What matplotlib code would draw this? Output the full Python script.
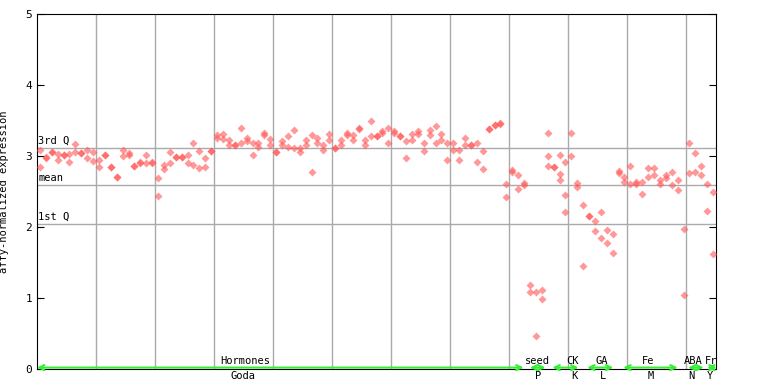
import numpy as np
import matplotlib.pyplot as plt

# expression per sample (two replicates; equal values where the marks overlap)
rep1 = [3.09, 2.99, 3.06, 3.03, 3.02, 3.03, 3.17, 3.04, 3.08, 3.05,
        2.95, 3.02, 2.85, 2.70, 3.08, 3.04, 2.86, 2.91, 3.01, 2.92,
        2.69, 2.87, 3.05, 2.99, 2.99, 3.01, 3.18, 3.07, 2.97, 3.07,
        3.30, 3.31, 3.23, 3.15, 3.40, 3.26, 3.18, 3.19, 3.32, 3.24,
        3.05, 3.21, 3.28, 3.36, 3.11, 3.22, 3.29, 3.26, 3.16, 3.31,
        3.11, 3.23, 3.32, 3.29, 3.40, 3.22, 3.50, 3.28, 3.35, 3.39,
        3.35, 3.28, 3.21, 3.31, 3.35, 3.18, 3.36, 3.42, 3.31, 3.18,
        3.18, 3.08, 3.26, 3.15, 3.18, 3.07, 3.38, 3.43, 3.47, 2.60,
        2.80, 2.73, 2.62, 1.19, 1.09, 1.11, 3.33, 2.85, 3.01, 2.92,
        3.33, 2.62, 2.31, 2.15, 2.08, 2.21, 1.96, 1.90, 2.79, 2.71,
        2.86, 2.64, 2.63, 2.83, 2.83, 2.66, 2.73, 2.77, 2.66, 1.97,
        3.18, 3.04, 2.86, 2.61, 2.49]
rep2 = [2.84, 2.97, 3.06, 2.95, 3.02, 2.91, 3.06, 3.04, 2.97, 2.93,
        2.84, 3.02, 2.85, 2.70, 3.00, 3.02, 2.86, 2.90, 2.90, 2.90,
        2.43, 2.81, 2.90, 2.99, 2.99, 2.90, 2.88, 2.83, 2.85, 3.07,
        3.26, 3.24, 3.16, 3.15, 3.19, 3.21, 3.01, 3.12, 3.30, 3.15,
        3.05, 3.15, 3.12, 3.11, 3.05, 3.15, 2.77, 3.18, 3.09, 3.22,
        3.11, 3.15, 3.30, 3.22, 3.38, 3.15, 3.28, 3.28, 3.32, 3.19,
        3.32, 3.28, 2.97, 3.22, 3.31, 3.07, 3.29, 3.18, 3.22, 2.94,
        3.08, 2.95, 3.15, 3.15, 2.92, 2.81, 3.38, 3.43, 3.45, 2.42,
        2.78, 2.53, 2.59, 1.08, 0.47, 0.98, 3.00, 2.85, 2.74, 2.45,
        3.00, 2.57, 1.45, 2.15, 1.94, 1.84, 1.77, 1.63, 2.76, 2.64,
        2.61, 2.61, 2.47, 2.71, 2.73, 2.60, 2.69, 2.59, 2.52, 1.04,
        2.76, 2.78, 2.73, 2.23, 1.62]
extra_idx = [86, 88, 89]
extra_val = [2.86, 2.66, 2.21]

q3, mean, q1 = 3.11, 2.59, 2.04

groups = ['Hormones', 'seed', 'CK', 'GA', 'Fe', 'ABA', 'Fr']
codes = ['Goda', 'P', 'K', 'L', 'M', 'N', 'Y']
grp_start = [-0.5, 83.0, 86.8, 92.7, 98.8, 109.8, 113.0]
grp_end = [81.9, 85.6, 91.2, 97.1, 108.0, 112.4, 114.6]
name_pos = [34.7, 84.2, 90.2, 95.1, 103.0, 110.7, 113.7]
code_pos = [34.4, 84.4, 90.5, 95.4, 103.4, 110.3, 113.4]

mono = 'DejaVu Sans Mono'
red = '#ff5555'

fig = plt.figure(figsize=(7.68, 3.84), dpi=100)
ax = fig.add_axes([37 / 768, 15 / 384, 679 / 768, 355 / 384])

x = np.arange(len(rep1))
for vals, xs in [(rep1, x), (rep2, x), (extra_val, extra_idx)]:
    ax.plot(xs, vals, 'D', ms=4, mfc=red, mec='none', alpha=0.6, zorder=3)

ax.set_xlim(-0.5, 114.5)
ax.set_ylim(0, 5)
ax.set_xticks(np.arange(9.5, 110, 10))
ax.set_xticklabels([])
ax.tick_params(axis='x', length=0)
ax.grid(axis='x', color='#aaaaaa', lw=1)
ax.set_axisbelow(True)

for v in (q3, mean, q1):
    ax.axhline(v, color='#aaaaaa', lw=1, zorder=1)
ax.text(-0.3, q3 + 0.03, '3rd Q', family=mono, fontsize=7.5, va='bottom')
ax.text(-0.3, mean + 0.03, 'mean', family=mono, fontsize=7.5, va='bottom')
ax.text(-0.3, q1 + 0.03, '1st Q', family=mono, fontsize=7.5, va='bottom')

ax.set_yticks(range(6))
ax.tick_params(axis='y', direction='in', length=5, right=True, labelsize=8)
for lab in ax.get_yticklabels():
    lab.set_family(mono)
ax.set_ylabel('affy-normalized expression', family=mono, fontsize=7.5, labelpad=12)
for s in ax.spines.values():
    s.set_color('black')

for name, code, a, b, p1, p2 in zip(groups, codes, grp_start, grp_end, name_pos, code_pos):
    ax.annotate('', xy=(b, 0.02), xytext=(a, 0.02),
                arrowprops=dict(arrowstyle='<->', color='#33ee33', lw=1.5,
                                shrinkA=0, shrinkB=0, mutation_scale=9),
                annotation_clip=False, zorder=4)
    ax.text(p1, 0.04, name, family=mono, fontsize=7.5, ha='center', va='bottom')
    ax.text(p2, -0.03, code, family=mono, fontsize=7.5, ha='center', va='top')

fig.savefig('out.png', dpi=100)
